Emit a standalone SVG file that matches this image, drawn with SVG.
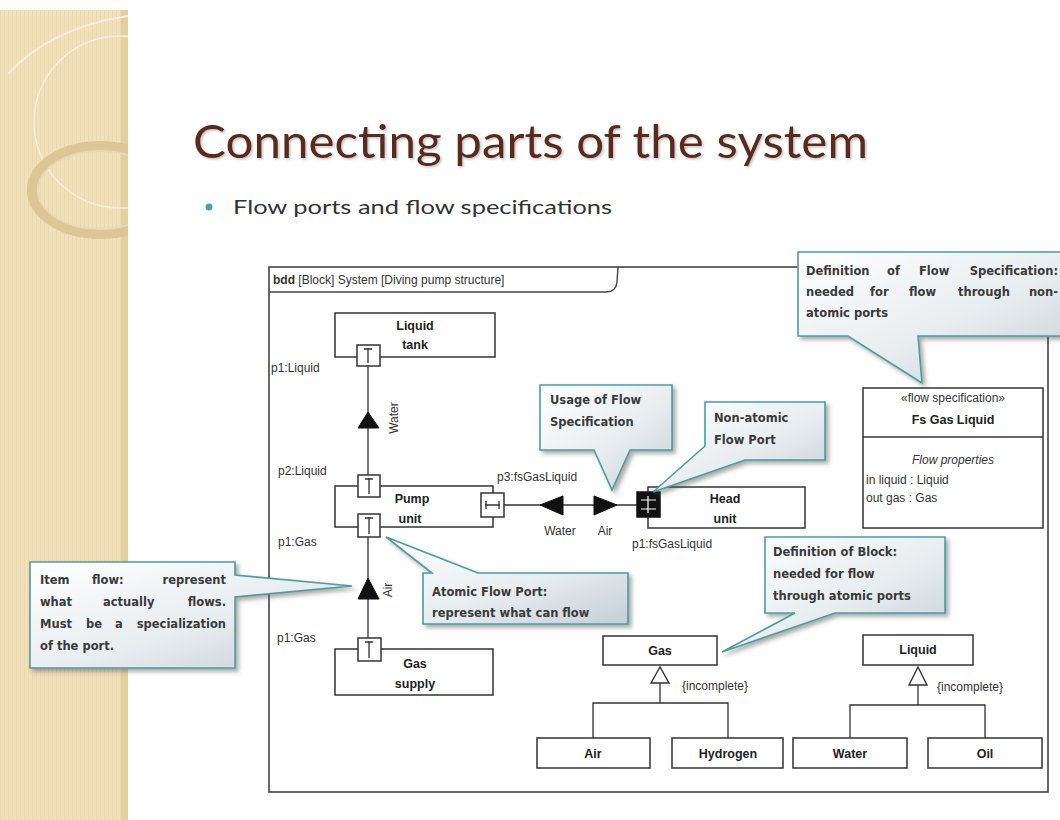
<svg xmlns="http://www.w3.org/2000/svg" width="1060" height="820" viewBox="0 0 1060 820">
<defs>
<style>
.blk{fill:#fff;stroke:#333;stroke-width:1.5}
.ln{stroke:#333;stroke-width:1.3;fill:none}
.bt{font-family:"Liberation Sans",Arial,sans-serif;font-size:12.5px;font-weight:bold;fill:#222;text-anchor:middle}
.lb{font-family:"Liberation Sans",Arial,sans-serif;font-size:12px;fill:#333}
.co{fill:url(#cg);stroke:#4f9c9e;stroke-width:1.6;filter:url(#sh)}
.ct{font-family:"DejaVu Sans",Verdana,sans-serif;font-size:11.5px;font-weight:bold;fill:#3a3a3a}
.tri{fill:#111;stroke:#111;stroke-width:1}
.gen{fill:#fff;stroke:#333;stroke-width:1.4}
</style>
<linearGradient id="cg" x1="0" y1="0" x2="1" y2="1">
<stop offset="0" stop-color="#ffffff"/>
<stop offset="0.55" stop-color="#e8edf0"/>
<stop offset="1" stop-color="#c4cfd7"/>
</linearGradient>
<filter id="sh" x="-10%" y="-10%" width="125%" height="130%">
<feDropShadow dx="3" dy="3" stdDeviation="2" flood-color="#555" flood-opacity="0.5"/>
</filter>
<filter id="tsh" x="-5%" y="-20%" width="110%" height="150%">
<feDropShadow dx="1.5" dy="1.5" stdDeviation="1" flood-color="#999" flood-opacity="0.6"/>
</filter>
<pattern id="stripes" width="4" height="10" patternUnits="userSpaceOnUse">
<rect width="4" height="10" fill="#f2e0ba"/>
<rect width="1" height="10" fill="#ecd8ae"/>
</pattern>
<clipPath id="barclip"><rect x="0" y="10" width="128" height="810"/></clipPath>
</defs>

<rect width="1060" height="820" fill="#fff"/>

<g id="sidebar">
<rect x="0" y="10" width="128" height="810" fill="url(#stripes)"/>
<rect x="121" y="10" width="7" height="810" fill="#e6cf9f"/>
<g clip-path="url(#barclip)" fill="none">
<path d="M8,74 Q50,28 128,16" stroke="#f8eedb" stroke-width="2"/>
<circle cx="120" cy="122" r="86" stroke="#f8eedb" stroke-width="1.5"/>
<ellipse cx="100" cy="190" rx="68" ry="44" stroke="#dcc697" stroke-width="10"/>
<ellipse cx="100" cy="190" rx="62" ry="39" stroke="#e9d8b2" stroke-width="2"/>
</g>
</g>

<g id="title">
<text x="193" y="158" font-family="Lato,'Open Sans',sans-serif" font-size="46" fill="#5a2a1a" textLength="675" lengthAdjust="spacingAndGlyphs" filter="url(#tsh)">Connecting parts of the system</text>
<circle cx="209" cy="207" r="3.5" fill="#4aa3a3"/>
<text x="233" y="214" font-family="Lato,'Open Sans',sans-serif" font-size="20" fill="#333" textLength="379" lengthAdjust="spacingAndGlyphs">Flow ports and flow specifications</text>
</g>

<g id="frame">
<rect x="269" y="267" width="779" height="525" fill="none" stroke="#444" stroke-width="1.6"/>
<path d="M269,292 H606 Q616,292 617,282 L618,267" fill="none" stroke="#444" stroke-width="1.4"/>
<text x="273" y="284" class="lb" font-size="11.5"><tspan font-weight="bold">bdd</tspan> [Block] System [Diving pump structure]</text>
</g>

<g id="connectors">
<line class="ln" x1="368" y1="366" x2="368" y2="475"/>
<polygon class="tri" points="368,412 358,428 379,428"/>
<line class="ln" x1="368" y1="537" x2="368" y2="638"/>
<polygon class="tri" points="368,578 358,599 379,599"/>
<line class="ln" x1="504" y1="505" x2="637" y2="505"/>
<polygon class="tri" points="540,505 563,496 563,515"/>
<polygon class="tri" points="617,505 594,496 594,515"/>
<text class="lb" transform="translate(398,418) rotate(-90)" text-anchor="middle">Water</text>
<text class="lb" transform="translate(392,590) rotate(-90)" text-anchor="middle">Air</text>
<text class="lb" x="560" y="535" text-anchor="middle">Water</text>
<text class="lb" x="605" y="535" text-anchor="middle">Air</text>
<line class="ln" x1="660" y1="683" x2="660" y2="703"/>
<polyline class="ln" points="593,738 593,703 728,703 728,738"/>
<polygon class="gen" points="660,667 651,683 669,683"/>
<text class="lb" x="682" y="690">{incomplete}</text>
<line class="ln" x1="918" y1="685" x2="918" y2="705"/>
<polyline class="ln" points="850,738 850,705 985,705 985,738"/>
<polygon class="gen" points="918,667 909,685 927,685"/>
<text class="lb" x="937" y="691">{incomplete}</text>
</g>

<g id="liquid-tank">
<rect class="blk" x="335" y="313" width="160" height="44"/>
<text class="bt" x="415" y="330">Liquid</text>
<text class="bt" x="415" y="349">tank</text>
<rect class="blk" x="357" y="345" width="23" height="21"/>
<path class="ln" d="M368,348 V363 M364,349 H372"/>
<text class="lb" x="271" y="372">p1:Liquid</text>
</g>

<g id="pump-unit">
<rect class="blk" x="335" y="486" width="158" height="41"/>
<text class="bt" x="412" y="503">Pump</text>
<text class="bt" x="410" y="523">unit</text>
<rect class="blk" x="358" y="475" width="22" height="22"/>
<path class="ln" d="M369,478 V494 M365,479 H373"/>
<rect class="blk" x="358" y="514" width="22" height="23"/>
<path class="ln" d="M369,517 V534 M365,518 H373"/>
<rect class="blk" x="481" y="493" width="23" height="24"/>
<path class="ln" d="M485,505 H500 M486,501 V509 M499,501 V509"/>
<text class="lb" x="278" y="475">p2:Liquid</text>
<text class="lb" x="278" y="546">p1:Gas</text>
<text class="lb" x="497" y="481">p3:fsGasLiquid</text>
</g>

<g id="head-unit">
<rect class="blk" x="648" y="487" width="157" height="41"/>
<text class="bt" x="725" y="503">Head</text>
<text class="bt" x="725" y="523">unit</text>
<rect x="637" y="492" width="23" height="25" fill="#111" stroke="#111" stroke-width="1.5"/>
<path d="M641,500 H656 M641,509 H656 M648,496 V513" stroke="#fff" stroke-width="1.2" fill="none"/>
<text class="lb" x="632" y="548">p1:fsGasLiquid</text>
</g>

<g id="gas-supply">
<rect class="blk" x="335" y="649" width="158" height="46"/>
<text class="bt" x="415" y="668">Gas</text>
<text class="bt" x="415" y="688">supply</text>
<rect class="blk" x="358" y="638" width="23" height="23"/>
<path class="ln" d="M369,641 V658 M365,642 H373"/>
<text class="lb" x="277" y="642">p1:Gas</text>
</g>

<g id="flow-spec">
<rect class="blk" x="863" y="388" width="180" height="140"/>
<line class="ln" x1="863" y1="437" x2="1043" y2="437" stroke-width="1.5"/>
<text class="lb" x="953" y="402" text-anchor="middle" font-size="11">«flow specification»</text>
<text class="bt" x="953" y="424">Fs Gas Liquid</text>
<text class="lb" x="953" y="464" text-anchor="middle" font-style="italic">Flow properties</text>
<text class="lb" x="866" y="484">in liquid : Liquid</text>
<text class="lb" x="866" y="502">out gas : Gas</text>
</g>

<g id="gas">
<rect class="blk" x="603" y="636" width="114" height="29"/>
<text class="bt" x="660" y="655">Gas</text>
</g>
<g id="air">
<rect class="blk" x="537" y="738" width="113" height="30"/>
<text class="bt" x="593" y="758">Air</text>
</g>
<g id="hydrogen">
<rect class="blk" x="672" y="738" width="111" height="30"/>
<text class="bt" x="728" y="758">Hydrogen</text>
</g>
<g id="liquid">
<rect class="blk" x="863" y="635" width="110" height="30"/>
<text class="bt" x="918" y="654">Liquid</text>
</g>
<g id="water">
<rect class="blk" x="793" y="738" width="114" height="30"/>
<text class="bt" x="850" y="758">Water</text>
</g>
<g id="oil">
<rect class="blk" x="928" y="738" width="114" height="30"/>
<text class="bt" x="985" y="758">Oil</text>
</g>

<g id="callout-item-flow">
<path class="co" d="M30,562 H235 V575 L352,586 L235,597 V668 H30 Z"/>
<text class="ct" x="40" y="584">Item</text>
<text class="ct" x="92" y="584">flow:</text>
<text class="ct" x="226" y="584" text-anchor="end">represent</text>
<text class="ct" x="40" y="606">what</text>
<text class="ct" x="103" y="606">actually</text>
<text class="ct" x="226" y="606" text-anchor="end">flows.</text>
<text class="ct" x="40" y="628">Must</text>
<text class="ct" x="86" y="628">be</text>
<text class="ct" x="115" y="628">a</text>
<text class="ct" x="226" y="628" text-anchor="end">specialization</text>
<text class="ct" x="40" y="650">of the port.</text>
</g>

<g id="callout-usage">
<path class="co" d="M540,385 H672 V450 H630 L612,490 L594,450 H540 Z"/>
<text class="ct" x="550" y="404">Usage of Flow</text>
<text class="ct" x="550" y="426">Specification</text>
</g>

<g id="callout-nonatomic">
<path class="co" d="M705,402 H825 V460 H745 L653,492 L705,446 Z"/>
<text class="ct" x="714" y="422">Non-atomic</text>
<text class="ct" x="714" y="444">Flow Port</text>
</g>

<g id="callout-flowspec-def">
<path class="co" d="M798,252 H1068 V336 H918 L922,383 L848,336 H798 Z"/>
<text class="ct" x="806" y="275">Definition</text>
<text class="ct" x="887" y="275">of</text>
<text class="ct" x="919" y="275">Flow</text>
<text class="ct" x="1058" y="275" text-anchor="end">Specification:</text>
<text class="ct" x="806" y="296">needed</text>
<text class="ct" x="870" y="296">for</text>
<text class="ct" x="909" y="296">flow</text>
<text class="ct" x="958" y="296">through</text>
<text class="ct" x="1058" y="296" text-anchor="end">non-</text>
<text class="ct" x="806" y="317">atomic ports</text>
</g>

<g id="callout-atomic">
<path class="co" d="M423,573 H432 L386,537 L478,573 H628 V624 H423 Z"/>
<text class="ct" x="432" y="596">Atomic Flow Port:</text>
<text class="ct" x="432" y="617">represent what can flow</text>
</g>

<g id="callout-block-def">
<path class="co" d="M765,537 H945 V613 H835 L722,652 L795,613 H765 Z"/>
<text class="ct" x="773" y="556">Definition of Block:</text>
<text class="ct" x="773" y="578">needed for flow</text>
<text class="ct" x="773" y="600">through atomic ports</text>
</g>
</svg>
